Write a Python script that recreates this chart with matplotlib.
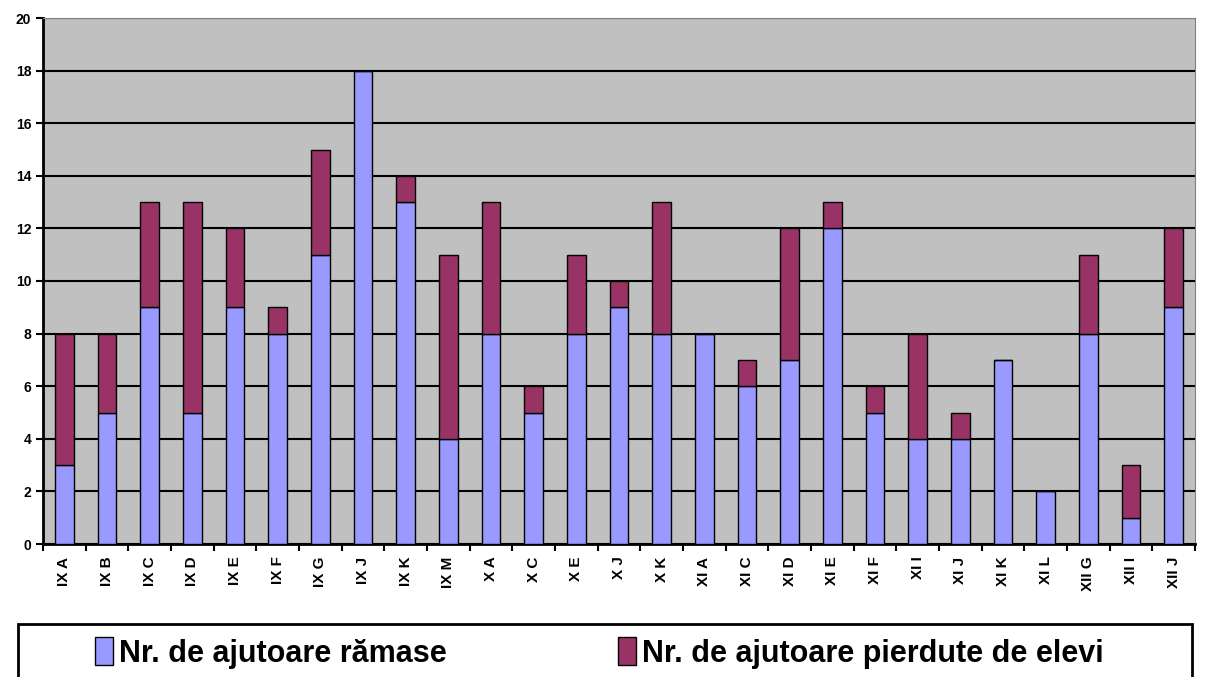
import matplotlib.pyplot as plt
from matplotlib.patches import Rectangle
import numpy as np

plt.rcParams['font.family'] = ['Liberation Sans', 'DejaVu Sans']
plt.rcParams['font.weight'] = 'bold'

classes = ['IX A', 'IX B', 'IX C', 'IX D', 'IX E', 'IX F', 'IX G', 'IX J', 'IX K', 'IX M',
           'X A', 'X C', 'X E', 'X J', 'X K', 'XI A', 'XI C', 'XI D', 'XI E', 'XI F',
           'XI I', 'XI J', 'XI K', 'XI L', 'XII G', 'XII I', 'XII J']
ramase = [3, 5, 9, 5, 9, 8, 11, 18, 13, 4, 8, 5, 8, 9, 8, 8, 6, 7, 12, 5, 4, 4, 7, 2, 8, 1, 9]
pierdute = [5, 3, 4, 8, 3, 1, 4, 0, 1, 7, 5, 1, 3, 1, 5, 0, 1, 5, 1, 1, 4, 1, 0, 0, 3, 2, 3]

fig = plt.figure(figsize=(12.06, 6.77), dpi=100)
ax = fig.add_axes([43 / 1206, 1 - 544 / 677, (1195 - 43) / 1206, (544 - 18) / 677])
ax.set_facecolor('#C0C0C0')

x = np.arange(len(classes))
b1 = ax.bar(x, ramase, width=0.43, color='#9999FF', edgecolor='black', linewidth=1,
            label='Nr. de ajutoare rămase', zorder=3)
b2 = ax.bar(x, pierdute, width=0.43, bottom=ramase, color='#993366', edgecolor='black',
            linewidth=1, label='Nr. de ajutoare pierdute de elevi', zorder=3)

ax.set_xlim(-0.5, len(classes) - 0.5)
ax.set_ylim(0, 20)
ax.set_yticks(range(0, 21, 2))
ax.yaxis.grid(True, color='black', linewidth=1.5, zorder=1)
ax.set_axisbelow(True)
ax.set_xticks(np.arange(len(classes) + 1) - 0.5, minor=False)
ax.set_xticklabels([])
ax.set_xticks(x, minor=True)
ax.set_xticklabels(classes, minor=True, rotation=90, fontsize=11, fontweight='bold')
ax.tick_params(axis='x', which='minor', length=0, pad=9)
ax.tick_params(axis='x', which='major', length=5, width=1.5)
ax.tick_params(axis='y', length=5, width=1.5, labelsize=10)
for lbl in ax.get_yticklabels():
    lbl.set_fontweight('bold')

ax.spines['left'].set_linewidth(2)
ax.spines['bottom'].set_linewidth(2)
ax.spines['top'].set_color('#808080')
ax.spines['right'].set_color('#808080')

fig.patches.append(Rectangle((18 / 1206, -0.05), (1192 - 18) / 1206, 0.05 + (677 - 624) / 677,
                             transform=fig.transFigure, fill=False, edgecolor='black',
                             linewidth=2))
fig.legend(handles=[b1, b2], loc='center', bbox_to_anchor=(0.497, 1 - 653 / 677), ncol=2,
           frameon=False, handlelength=0.6, handleheight=1.0,
           handletextpad=0.2, columnspacing=5.6, prop={'weight': 'bold', 'size': 22})

fig.savefig('out.png', dpi=100)
